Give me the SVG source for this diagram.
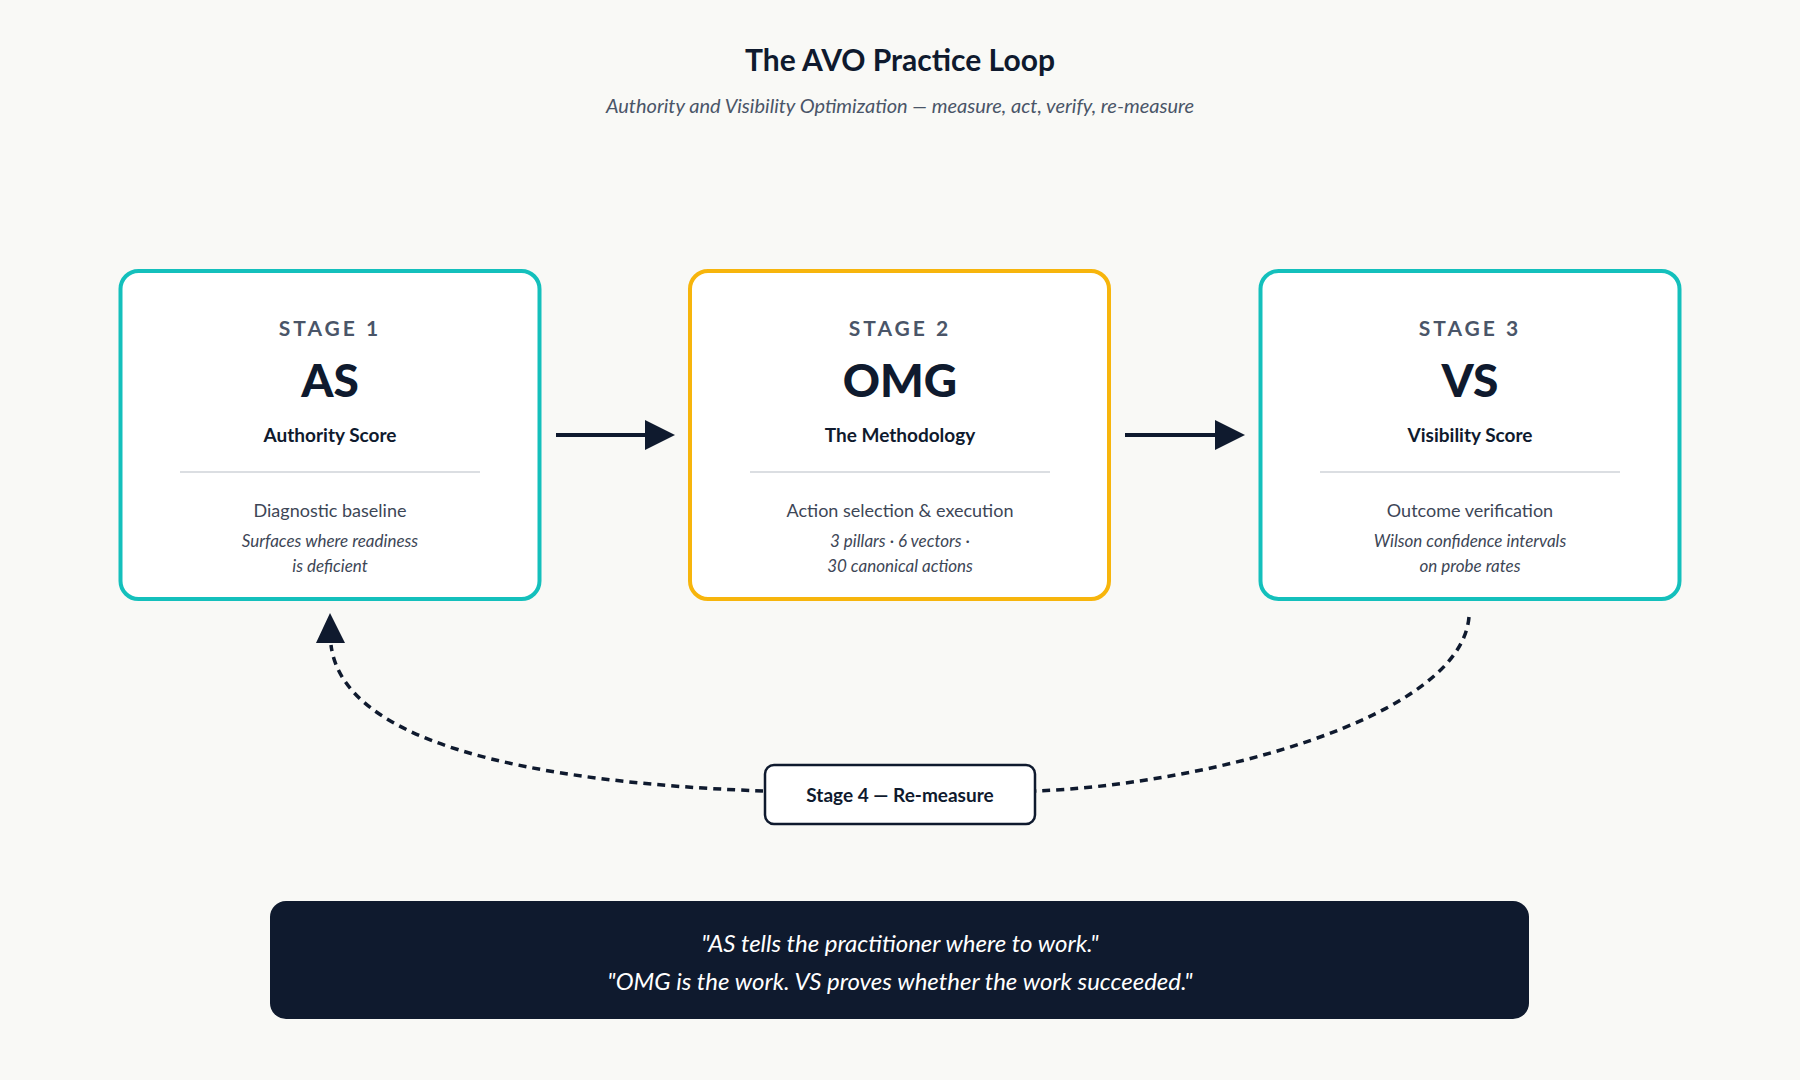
<svg xmlns="http://www.w3.org/2000/svg" width="1800" height="1080" viewBox="0 0 1800 1080">
<defs>
<style>
text{font-family:Lato,"Noto Sans",sans-serif;text-anchor:middle;fill:#0f1a2e}
.box{fill:#fff;stroke-width:4}
.stg{font-size:21px;font-weight:700;letter-spacing:3px;fill:#4a5568}
.big{font-size:46px;font-weight:900}
.sub{font-size:19px;font-weight:700}
.desc{font-size:18px;fill:#3d4656}
.it{font-size:17px;font-style:italic;fill:#3d4656}
.div{stroke:#cfd3d8;stroke-width:1.5}
.con{fill:none;stroke:#0f1a2e;stroke-width:4}
.dash{fill:none;stroke:#0f1a2e;stroke-width:3.5;stroke-dasharray:8 6}
</style>
<marker id="ah" viewBox="0 0 10 10" refX="1" refY="5" markerWidth="30" markerHeight="30" markerUnits="userSpaceOnUse" orient="auto"><path d="M0,0L10,5L0,10z" fill="#0f1a2e"/></marker>
</defs>
<rect width="1800" height="1080" fill="#f9f9f6"/>
<text x="900" y="71" style="font-size:30px;font-weight:700">The AVO Practice Loop</text>
<text x="900" y="113" style="font-size:20px;font-style:italic;fill:#4a5568">Authority and Visibility Optimization — measure, act, verify, re-measure</text>

<g id="connectors">
<path class="con" d="M556,435H648" marker-end="url(#ah)"/>
<path class="con" d="M1125,435H1218" marker-end="url(#ah)"/>
<path class="dash" d="M1469,617C1460,720 1200,785 1036,791"/>
<path class="dash" d="M763,791C600,785 345,760 331,645"/>
<path d="M330,613L345,643L316,643z" fill="#0f1a2e"/>
</g>

<g id="stage1">
<rect class="box" x="120.5" y="271" width="419" height="328" rx="18" stroke="#14c0bc"/>
<text class="stg" x="330" y="336">STAGE 1</text>
<text class="big" x="330" y="397">AS</text>
<text class="sub" x="330" y="442">Authority Score</text>
<line class="div" x1="180" y1="472" x2="480" y2="472"/>
<text class="desc" x="330" y="517">Diagnostic baseline</text>
<text class="it" x="330" y="547">Surfaces where readiness</text>
<text class="it" x="330" y="572">is deficient</text>
</g>
<g id="stage2">
<rect class="box" x="690" y="271" width="419" height="328" rx="18" stroke="#f7b50c"/>
<text class="stg" x="900" y="336">STAGE 2</text>
<text class="big" x="900" y="397">OMG</text>
<text class="sub" x="900" y="442">The Methodology</text>
<line class="div" x1="750" y1="472" x2="1050" y2="472"/>
<text class="desc" x="900" y="517">Action selection &amp; execution</text>
<text class="it" x="900" y="547">3 pillars · 6 vectors ·</text>
<text class="it" x="900" y="572">30 canonical actions</text>
</g>
<g id="stage3">
<rect class="box" x="1260.5" y="271" width="419" height="328" rx="18" stroke="#14c0bc"/>
<text class="stg" x="1470" y="336">STAGE 3</text>
<text class="big" x="1470" y="397">VS</text>
<text class="sub" x="1470" y="442">Visibility Score</text>
<line class="div" x1="1320" y1="472" x2="1620" y2="472"/>
<text class="desc" x="1470" y="517">Outcome verification</text>
<text class="it" x="1470" y="547">Wilson confidence intervals</text>
<text class="it" x="1470" y="572">on probe rates</text>
</g>
<g id="stage4">
<rect x="765" y="765" width="270" height="59" rx="9" fill="#fff" stroke="#0f1a2e" stroke-width="2.5"/>
<text x="900" y="802" style="font-size:19px;font-weight:700">Stage 4 — Re-measure</text>
</g>
<g id="quote">
<rect x="270" y="901" width="1259" height="118" rx="16" fill="#0f1a2e"/>
<text x="900" y="952" style="font-size:24px;font-style:italic;fill:#fff">"AS tells the practitioner where to work."</text>
<text x="900" y="990" style="font-size:24px;font-style:italic;fill:#fff">"OMG is the work. VS proves whether the work succeeded."</text>
</g>
</svg>
